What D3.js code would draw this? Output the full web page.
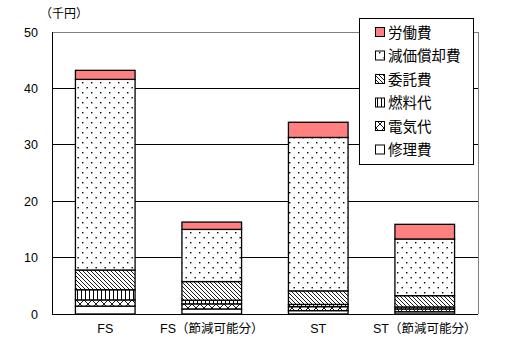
<!DOCTYPE html>
<html><head><meta charset="utf-8">
<script src="https://cdn.jsdelivr.net/npm/d3@7"></script>
<style>body{margin:0;background:#fff}svg{display:block}</style>
</head><body><svg id="c" width="505" height="350"></svg>
<script>
const categories = ["FS", "FS（節減可能分）", "ST", "ST（節減可能分）"];
const seriesNames = ["修理費", "電気代", "燃料代", "委託費", "減価償却費", "労働費"];
const shuuriHi = [1.4, 0.9, 0.6, 0.4];
const denkiDai = [1.1, 0.9, 0.7, 0.5];
const nenryouDai = [1.8, 0.65, 0.4, 0.35];
const itakuHi = [3.5, 3.3, 2.4, 2.0];
const genkaShoukyakuHi = [33.8, 9.25, 27.2, 10.05];
const roudouHi = [1.6, 1.3, 2.7, 2.6];
const yTicks = [0, 10, 20, 30, 40, 50];
const yUnit = "（千円）";

const seriesValues = [shuuriHi, denkiDai, nenryouDai, itakuHi, genkaShoukyakuHi, roudouHi];
const rows = categories.map((c, i) => {
  const r = {cat: c};
  seriesNames.forEach((s, j) => r[s] = seriesValues[j][i]);
  return r;
});

const svg = d3.select("#c");
const L = 52, R = 478, T = 32, B = 314;
const x = d3.scaleBand().domain(categories).range([L, R]).paddingInner(0.44).paddingOuter(0.22);
const y = d3.scaleLinear().domain([0, 50]).range([B, T]);

// patterns
const defs = svg.append("defs");
function pat(id, w, h, draw) {
  const p = defs.append("pattern").attr("id", id).attr("patternUnits", "userSpaceOnUse")
    .attr("width", w).attr("height", h);
  p.append("rect").attr("width", w).attr("height", h).attr("fill", "#fff");
  draw(p);
}
pat("pDots", 9, 10, p => {
  p.append("rect").attr("x", 1).attr("y", 2).attr("width", 1.4).attr("height", 1.4).attr("fill", "#000");
  p.append("rect").attr("x", 5.5).attr("y", 7).attr("width", 1.4).attr("height", 1.4).attr("fill", "#000");
});
pat("pDiag", 4, 4, p => {
  p.append("path").attr("d", "M-1,-1L5,5M-1,3L1,5M3,-1L5,1").attr("stroke", "#000").attr("stroke-width", 0.9);
});
pat("pVert", 4, 4, p => {
  p.append("rect").attr("x", 1).attr("y", 0).attr("width", 1).attr("height", 4).attr("fill", "#000");
});
pat("pCross", 8, 8, p => {
  p.append("path").attr("d", "M0,0L8,8M8,0L0,8").attr("stroke", "#000").attr("stroke-width", 0.9);
});
const fills = {
  "修理費": "#fff",
  "電気代": "url(#pCross)",
  "燃料代": "url(#pVert)",
  "委託費": "url(#pDiag)",
  "減価償却費": "url(#pDots)",
  "労働費": "#ff8080"
};

// grid & frame
svg.append("g").selectAll("line").data(yTicks.filter(t => t > 0 && t < 50)).join("line")
  .attr("x1", L).attr("x2", R).attr("y1", d => y(d)).attr("y2", d => y(d))
  .attr("stroke", "#000").attr("stroke-width", 1).attr("shape-rendering", "crispEdges");
svg.append("path").attr("d", `M${L},${y(50)}H${R}V${B}`).attr("fill", "none")
  .attr("stroke", "#808080").attr("shape-rendering", "crispEdges");

// bars
const stack = d3.stack().keys(seriesNames)(rows);
const gBars = svg.append("g");
stack.forEach(layer => {
  gBars.append("g").selectAll("rect").data(layer).join("rect")
    .attr("x", d => x(d.data.cat)).attr("width", x.bandwidth())
    .attr("y", d => y(d[1])).attr("height", d => y(d[0]) - y(d[1]))
    .attr("fill", fills[layer.key]).attr("stroke", "#000").attr("stroke-width", 1.3);
});

// axes
svg.append("line").attr("x1", L).attr("x2", L).attr("y1", T).attr("y2", B)
  .attr("stroke", "#000").attr("shape-rendering", "crispEdges");
svg.append("line").attr("x1", L).attr("x2", R).attr("y1", B).attr("y2", B)
  .attr("stroke", "#000").attr("shape-rendering", "crispEdges");

const yAxis = d3.axisLeft(y).tickValues(yTicks).tickSize(0).tickPadding(14);
const ga = svg.append("g").attr("transform", `translate(${L},0)`).call(yAxis);
ga.select(".domain").remove();
ga.selectAll("text").attr("font-family", "Liberation Sans, Arial, sans-serif").attr("font-size", 12.5).attr("fill", "#000");

const xAxis = d3.axisBottom(x).tickSize(0).tickPadding(10);
const gx = svg.append("g").attr("transform", `translate(0,${B})`).call(xAxis);
gx.select(".domain").remove();
gx.selectAll("text").attr("font-family", "Liberation Sans, 'Noto Sans CJK JP', sans-serif").attr("font-size", 12.5).attr("fill", "#000");

svg.append("text").attr("x", 40).attr("y", 18).text(yUnit)
  .attr("font-family", "'Noto Sans CJK JP', sans-serif").attr("font-size", 12).attr("fill", "#000");

// legend
const lg = svg.append("g");
lg.append("rect").attr("x", 359.5).attr("y", 18.5).attr("width", 114).attr("height", 146)
  .attr("fill", "#fff").attr("stroke", "#000").attr("stroke-width", 1);
const legendOrder = seriesNames.slice().reverse();
legendOrder.forEach((s, i) => {
  const cy = 32 + i * 23.5;
  lg.append("rect").attr("x", 375.5).attr("y", cy - 4.5).attr("width", 9).attr("height", 9)
    .attr("fill", fills[s]).attr("stroke", "#000").attr("stroke-width", 1);
  lg.append("text").attr("x", 388).attr("y", cy + 5.5).text(s)
    .attr("font-family", "'Noto Sans CJK JP', sans-serif").attr("font-size", 14.5).attr("fill", "#000");
});
</script></body></html>
